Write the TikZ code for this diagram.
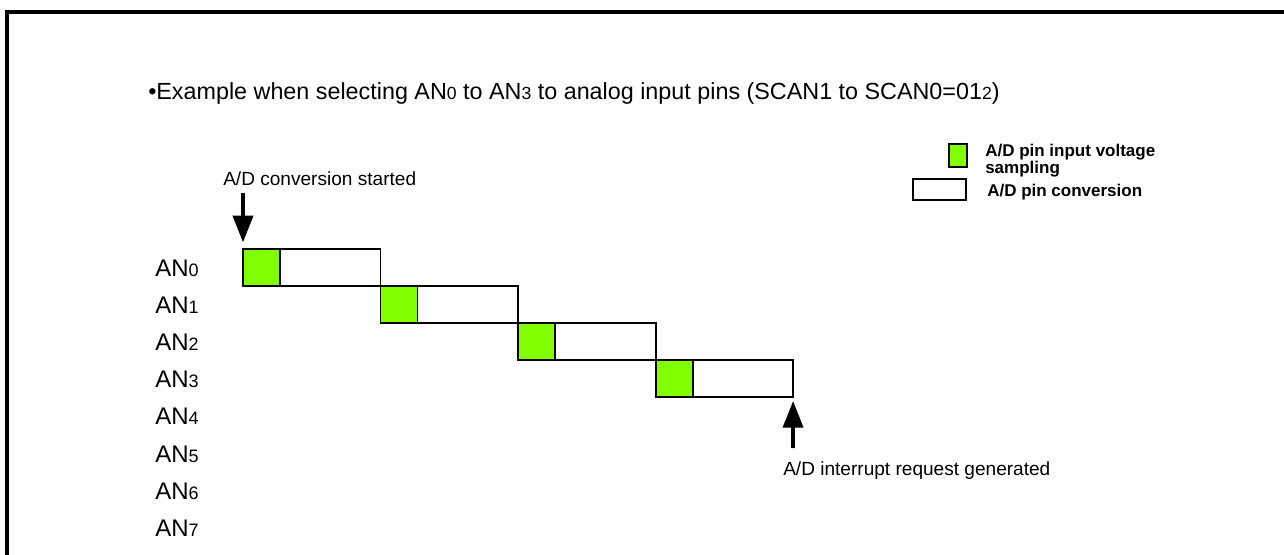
\documentclass[tikz,border=0pt]{standalone}
\usepackage{fontspec}
\setmainfont{Liberation Sans}
\usetikzlibrary{positioning,arrows.meta}

\definecolor{samplegreen}{RGB}{128,255,0}
\newcommand{\digtitle}[1]{{\fontsize{13.2}{13.2}\selectfont#1}}
\newcommand{\digpin}[1]{{\fontsize{13.5}{13.5}\selectfont#1}}

\tikzset{
    frameline/.style={line width=2.4pt},
    samplebox/.style={draw, fill=samplegreen, line width=1.4pt, inner sep=0pt, outer sep=0pt,
        minimum width=27.75pt, minimum height=27.75pt},
    convbox/.style={draw, fill=white, line width=1.4pt, inner sep=0pt, outer sep=0pt,
        minimum width=75.4pt, minimum height=27.75pt},
    eventarrow/.style={line width=2.8pt, -{Triangle[width=15pt,length=20pt]}},
    pinlabel/.style={anchor=base west, inner sep=0pt, font=\fontsize{18}{18}\selectfont},
    note/.style={anchor=base west, inner sep=0pt, font=\fontsize{14.3}{14.3}\selectfont},
    legendtext/.style={anchor=north west, inner sep=0pt, align=left,
        font=\bfseries\fontsize{12.75}{10.5}\selectfont},
}

\begin{document}
\begin{tikzpicture}[x=0.75pt,y=-0.75pt]
        \useasboundingbox (0,0) rectangle (1284,555);

        % Frame (top and left edges only)
        \draw[frameline] (1284,12) -- (7,12) -- (7,555);

        % Heading
        \node[note, font=\fontsize{17.5}{18}\selectfont] (title) at (148,100)
            {\textbullet Example when selecting AN\digtitle{0} to AN\digtitle{3} to analog input pins (SCAN1 to SCAN0=01\digtitle{2})};

        % Pin labels
        \foreach \i in {0,...,7} {
            \node[pinlabel] (an\i) at (155,{277+37*\i}) {AN\digpin{\i}};
        }

        % Sampling and conversion boxes
        \node[samplebox, anchor=north west] (s0) at (243,249) {};
        \node[convbox, right=0pt of s0] (c0) {};
        \foreach \i [remember=\i as \prev (initially 0)] in {1,2,3} {
            \node[samplebox, anchor=north west] (s\i) at (c\prev.south east) {};
            \node[convbox, right=0pt of s\i] (c\i) {};
        }

        % Start of conversion
        \coordinate (starttail) at (243,193);
        \draw[eventarrow, shorten >=5pt] (starttail) -- (s0.north west);
        \node[note] (startlbl) at (223,186) {A/D conversion started};

        % Interrupt request
        \coordinate (irqtail) at (793,448);
        \draw[eventarrow, shorten >=3pt] (irqtail) -- (c3.south east);
        \node[note] (irqlbl) at (783,475) {A/D interrupt request generated};

        % Legend
        \node[draw, fill=samplegreen, line width=1.4pt, inner sep=0pt, anchor=north west,
            minimum width=13.5pt, minimum height=17pt] (legsample) at (948,143) {};
        \node[draw, line width=1.4pt, inner sep=0pt, anchor=north west,
            minimum width=40pt, minimum height=15.75pt] (legconv) at (912,178) {};
        \node[legendtext] (legsamplelbl) at (985,144) {A/D pin input voltage\\sampling};
        \node[legendtext] (legconvlbl) at (987,184) {A/D pin conversion};
    \end{tikzpicture}
\end{document}
